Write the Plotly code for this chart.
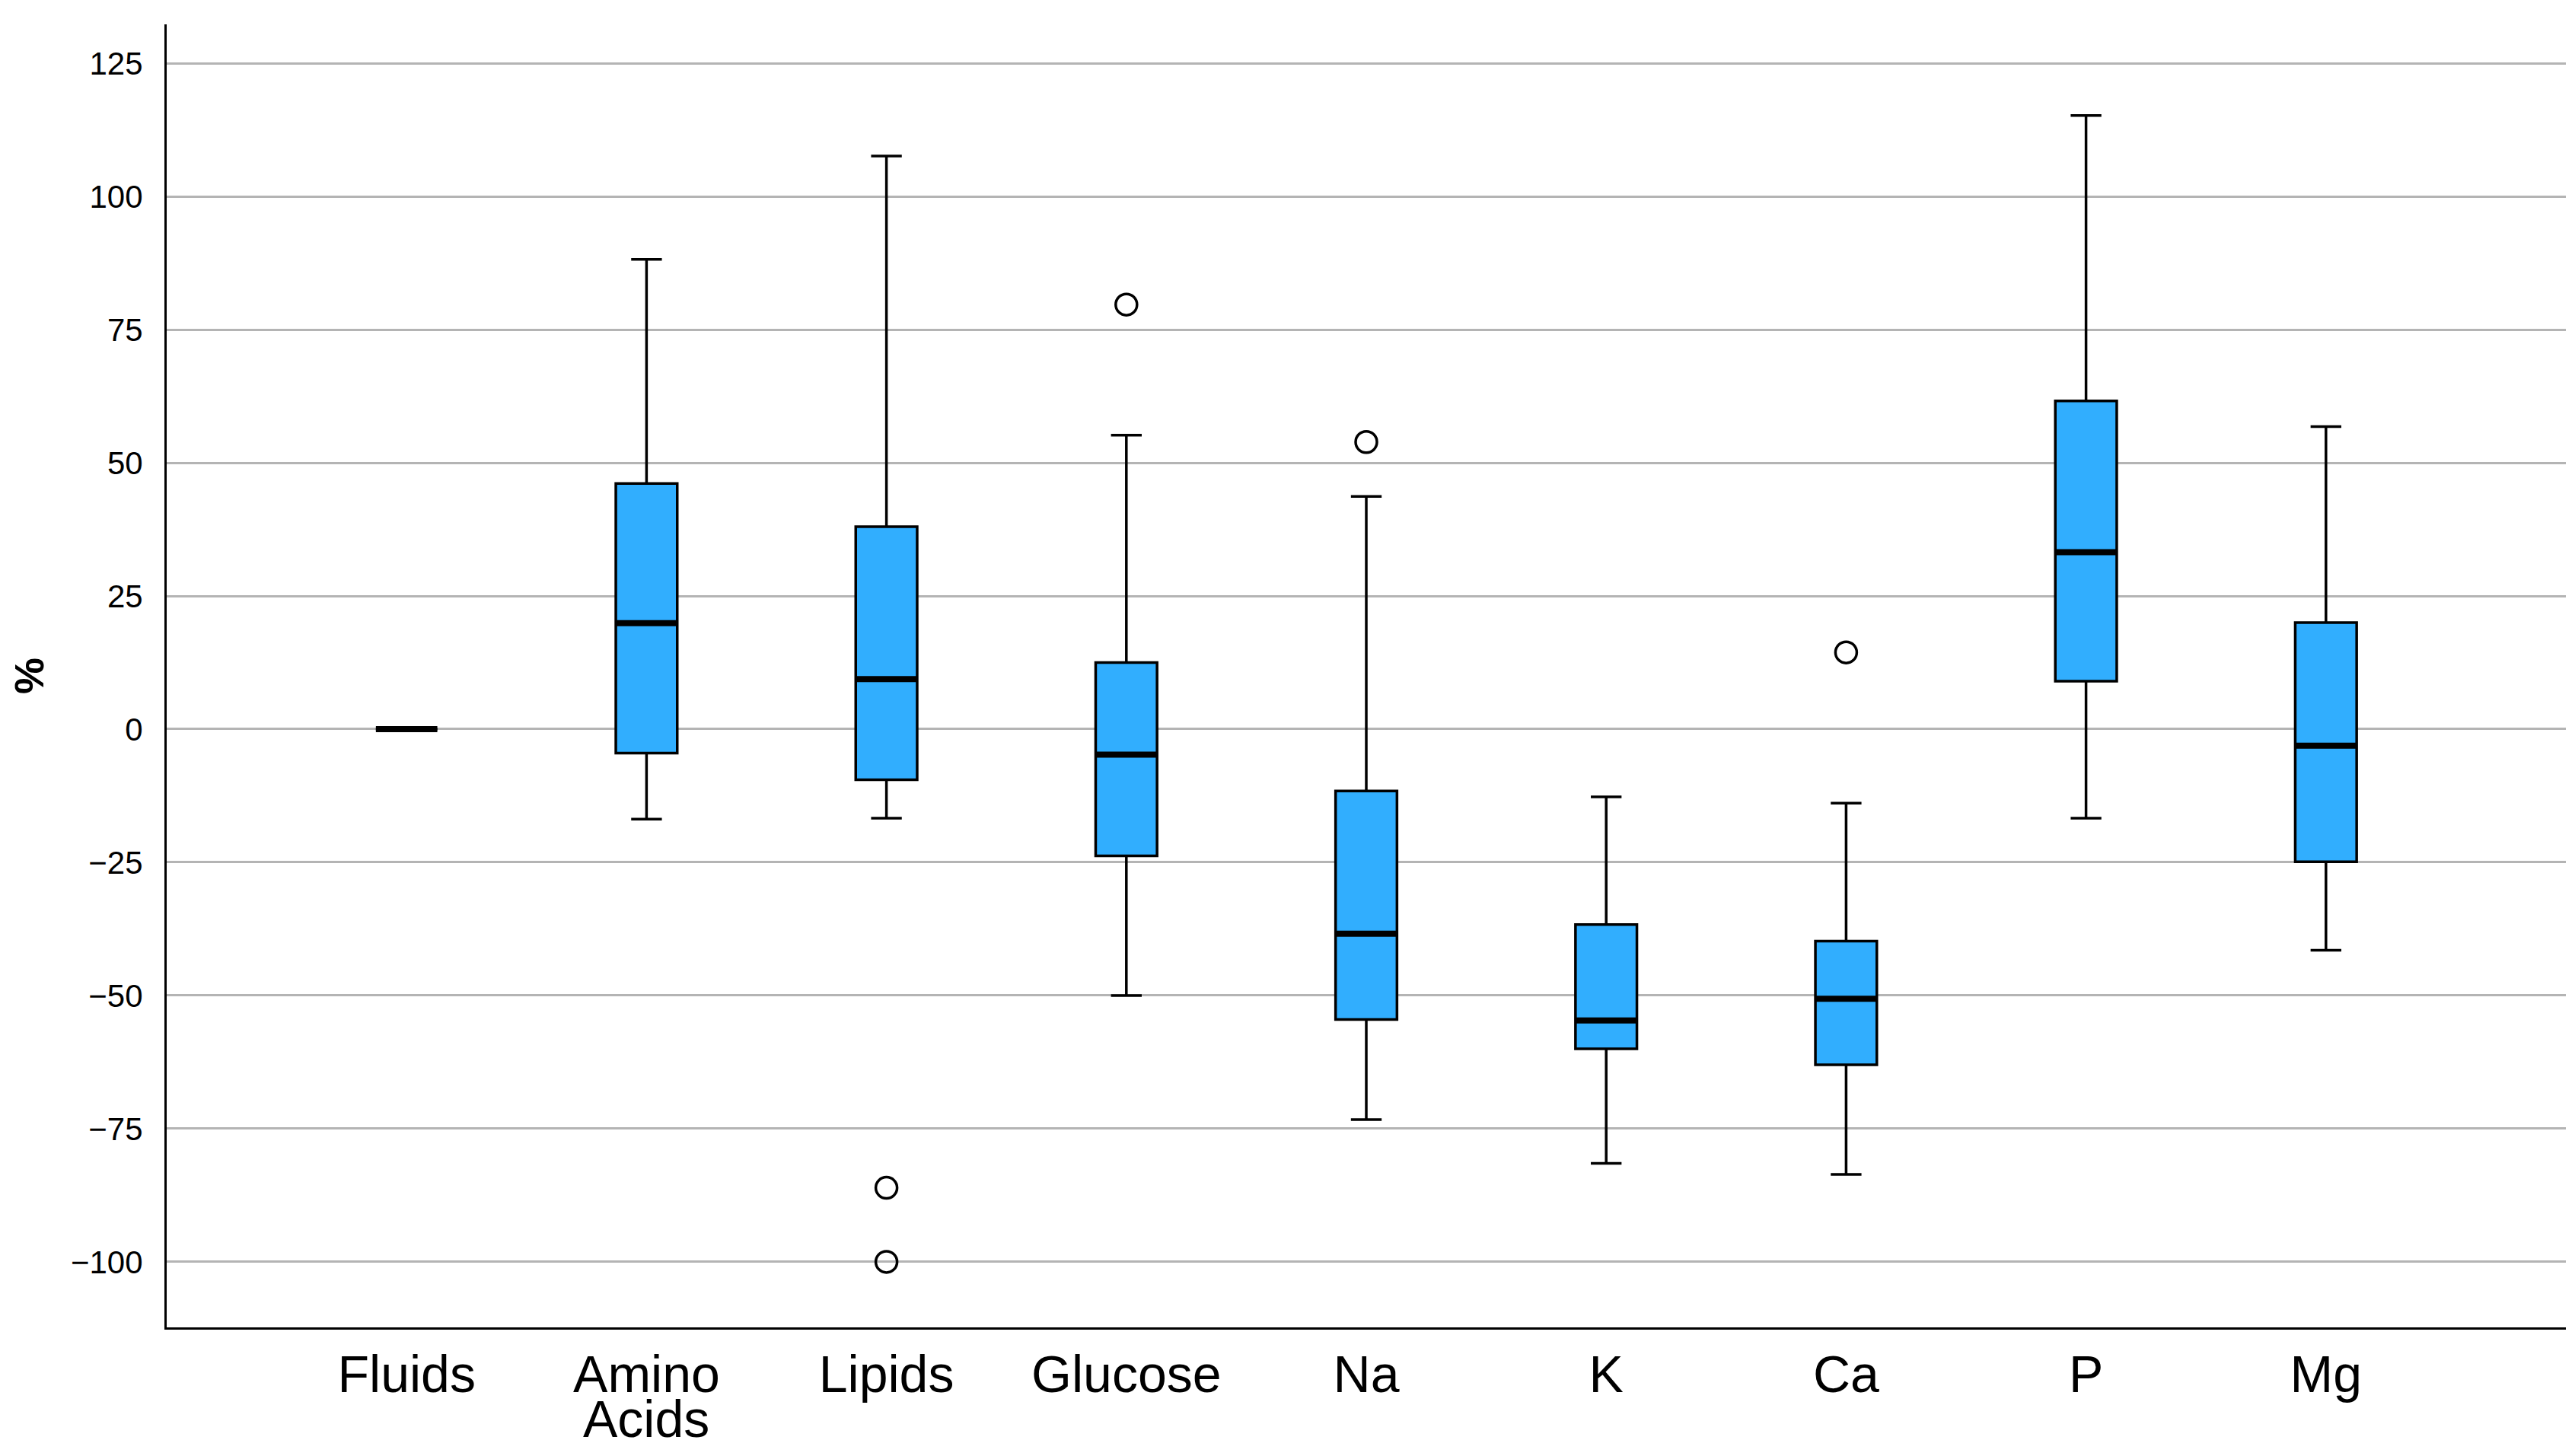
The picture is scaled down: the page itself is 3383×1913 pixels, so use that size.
import plotly.graph_objects as go

# box statistics (% change)
categories = ["Fluids", "Amino", "Lipids", "Glucose", "Na", "K", "Ca", "P", "Mg"]
q1_vals = [0, -4.5, -9.5, -23.8, -54.5, -60.0, -63.0, 9.0, -24.9]
median_vals = [0, 19.9, 9.4, -4.8, -38.4, -54.7, -50.6, 33.2, -3.1]
q3_vals = [0, 46.1, 38.0, 12.5, -11.6, -36.7, -39.8, 61.6, 20.0]
lower_vals = [0, -16.9, -16.7, -50.0, -73.3, -81.5, -83.6, -16.7, -41.5]
upper_vals = [0, 88.2, 107.6, 55.2, 43.7, -12.7, -13.9, 115.2, 56.8]

# outliers: index of category and value
outlier_cat = [2, 2, 3, 4, 6]
outlier_vals = [-86.1, -100.0, 79.7, 53.9, 14.4]

y_ticks = [-100, -75, -50, -25, 0, 25, 50, 75, 100, 125]

positions = list(range(len(categories)))
box_w = 0.256
font_family = "Liberation Sans, Arial, sans-serif"

fig = go.Figure()

fig.add_trace(go.Box(
    x=positions,
    q1=q1_vals,
    median=median_vals,
    q3=q3_vals,
    lowerfence=lower_vals,
    upperfence=upper_vals,
    width=box_w,
    whiskerwidth=0.5,
    fillcolor="#31aefe",
    line=dict(color="black", width=3.5),
    boxpoints=False,
    showlegend=False,
    hoverinfo="skip",
))

# thick median bars on top of the boxes
med_x, med_y = [], []
for p, m in zip(positions, median_vals):
    med_x += [p - box_w / 2, p + box_w / 2, None]
    med_y += [m, m, None]
fig.add_trace(go.Scatter(
    x=med_x, y=med_y, mode="lines",
    line=dict(color="black", width=8),
    showlegend=False, hoverinfo="skip",
))

fig.add_trace(go.Scatter(
    x=outlier_cat, y=outlier_vals, mode="markers",
    marker=dict(symbol="circle-open", size=28, color="black", line=dict(width=3.5, color="black")),
    showlegend=False, hoverinfo="skip",
))

# second line of the "Amino Acids" label (tighter line spacing than plotly's <br>)
fig.add_annotation(
    x=1, y=0, xref="x", yref="paper",
    text="Acids", showarrow=False,
    yanchor="top", yshift=-80,
    font=dict(size=68, color="black", family=font_family),
)

fig.update_layout(
    template="none",
    width=3383,
    height=1913,
    margin=dict(l=211, r=20, t=24, b=177),
    paper_bgcolor="white",
    plot_bgcolor="white",
    font=dict(family=font_family, color="black"),
    xaxis=dict(
        range=[-1, 9],
        tickmode="array",
        tickvals=positions,
        ticktext=categories,
        tickfont=dict(size=68, color="black"),
        showgrid=False,
        zeroline=False,
        showline=True,
        linecolor="black",
        linewidth=3,
        ticks="",
        ticklabelstandoff=0,
        automargin=False,
    ),
    yaxis=dict(
        range=[-112.3, 132.3],
        tickmode="array",
        tickvals=y_ticks,
        tickfont=dict(size=42, color="black"),
        showgrid=True,
        gridcolor="#b4b4b4",
        gridwidth=3,
        zeroline=False,
        showline=True,
        linecolor="black",
        linewidth=3,
        ticks="",
        ticklabelstandoff=20,
        title=dict(text="<b>%</b>", font=dict(size=54, color="black"), standoff=30),
        automargin=False,
    ),
)

fig.write_html("out.html")
